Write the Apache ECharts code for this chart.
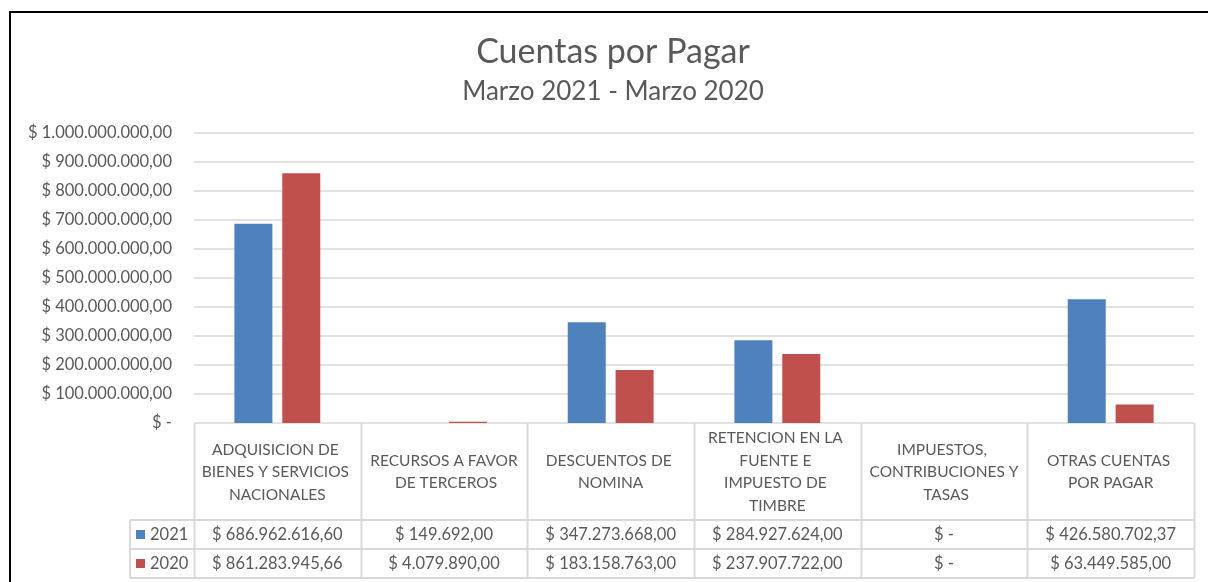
<!DOCTYPE html>
<html>
<head>
<meta charset="utf-8">
<script src="https://cdn.jsdelivr.net/npm/echarts@6/dist/echarts.min.js"></script>
<style>
html,body{margin:0;padding:0;background:#fff;}
#c{width:1208px;height:582px;}
</style>
</head>
<body>
<div id="c"></div>
<script>
const categories = [
  "ADQUISICION DE BIENES Y SERVICIOS NACIONALES",
  "RECURSOS A FAVOR DE TERCEROS",
  "DESCUENTOS DE NOMINA",
  "RETENCION EN LA FUENTE E IMPUESTO DE TIMBRE",
  "IMPUESTOS, CONTRIBUCIONES Y TASAS",
  "OTRAS CUENTAS POR PAGAR"
];
const seriesNames = ["2021", "2020"];
const values2021 = [686962616.60, 149692.00, 347273668.00, 284927624.00, 0, 426580702.37];
const values2020 = [861283945.66, 4079890.00, 183158763.00, 237907722.00, 0, 63449585.00];
const titleText = "Cuentas por Pagar";
const subtitleText = "Marzo 2021 - Marzo 2020";

function fmtMoney(v) {
  if (!v) return "$ -";
  const parts = v.toFixed(2).split(".");
  const intPart = parts[0].replace(/\B(?=(\d{3})+(?!\d))/g, ".");
  return "$ " + intPart + "," + parts[1];
}

const FONT = "Lato";
const GRAY = "#595959";
const LINE = "#D9D9D9";
const G = {left: 194, right: 1194, top: 133, bottom: 423};
const rowY = [423, 520, 549, 578];
const legendLeft = 130;
const NUM_SIZE = 16.5;

const chart = echarts.init(document.getElementById('c'));

const graphics = [];
graphics.push({type:'rect', shape:{x:10, y:12, width:1240, height:600}, style:{fill:'none', stroke:'#000', lineWidth:2}, silent:true});
const colW = (G.right - G.left) / categories.length;
for (let i = 0; i <= categories.length; i++) {
  const x = Math.round(G.left + i * colW) + 0.5;
  graphics.push({type:'line', shape:{x1:x, y1:rowY[0], x2:x, y2:rowY[3]}, style:{stroke:LINE, lineWidth:2}, silent:true});
}
graphics.push({type:'line', shape:{x1:legendLeft, y1:rowY[1], x2:legendLeft, y2:rowY[3]}, style:{stroke:LINE, lineWidth:2}, silent:true});
for (let r = 1; r < rowY.length; r++) {
  graphics.push({type:'line', shape:{x1:legendLeft, y1:rowY[r], x2:G.right, y2:rowY[r]}, style:{stroke:LINE, lineWidth:2}, silent:true});
}

const baseCatAxis = {
  type:'category', gridIndex:0, position:'bottom',
  axisLine:{show:false}, axisTick:{show:false}, splitLine:{show:false}
};
const legendBase = {
  orient:'horizontal', left:136, icon:'rect', itemWidth:9, itemHeight:9, padding:0,
  textStyle:{fontFamily:FONT, fontSize:NUM_SIZE, color:GRAY}
};

const option = {
  backgroundColor:'#fff',
  animation:false,
  title:[
    {text:titleText, left:613, textAlign:'center', top:35, padding:0, textStyle:{fontFamily:FONT, fontSize:34, fontWeight:'normal', color:GRAY}},
    {text:subtitleText, left:613, textAlign:'center', top:79, padding:0, textStyle:{fontFamily:FONT, fontSize:26, fontWeight:'normal', color:GRAY}}
  ],
  legend:[
    Object.assign({}, legendBase, {top:526, data:[seriesNames[0]]}),
    Object.assign({}, legendBase, {top:555, data:[seriesNames[1]]})
  ],
  grid:{left:G.left, top:G.top, width:G.right-G.left, height:G.bottom-G.top, containLabel:false},
  xAxis:[
    Object.assign({}, baseCatAxis, {
      data:categories,
      axisLabel:{interval:0, margin:49, verticalAlign:'middle', width:152, overflow:'break', lineHeight:22.5,
        fontFamily:FONT, fontSize:15.5, color:GRAY, align:'center'}
    }),
    Object.assign({}, baseCatAxis, {
      data:categories,
      axisLabel:{interval:0, margin:112, verticalAlign:'middle', fontFamily:FONT, fontSize:NUM_SIZE, color:GRAY,
        formatter:function(v, i){ return fmtMoney(values2021[i]); }}
    }),
    Object.assign({}, baseCatAxis, {
      data:categories,
      axisLabel:{interval:0, margin:141, verticalAlign:'middle', fontFamily:FONT, fontSize:NUM_SIZE, color:GRAY,
        formatter:function(v, i){ return fmtMoney(values2020[i]); }}
    })
  ],
  yAxis:{
    type:'value', min:0, max:1000000000, interval:100000000,
    axisLine:{show:false}, axisTick:{show:false},
    splitLine:{lineStyle:{color:LINE, width:1.5}},
    axisLabel:{margin:22, fontFamily:FONT, fontSize:NUM_SIZE, color:GRAY, formatter:fmtMoney}
  },
  series:[
    {name:seriesNames[0], type:'bar', xAxisIndex:0, data:values2021, barWidth:38, barGap:'26%', itemStyle:{color:'#4F81BD'}},
    {name:seriesNames[1], type:'bar', xAxisIndex:0, data:values2020, barWidth:38, barGap:'26%', itemStyle:{color:'#C0504D'}}
  ],
  graphic:graphics
};
chart.setOption(option);
</script>
</body>
</html>
